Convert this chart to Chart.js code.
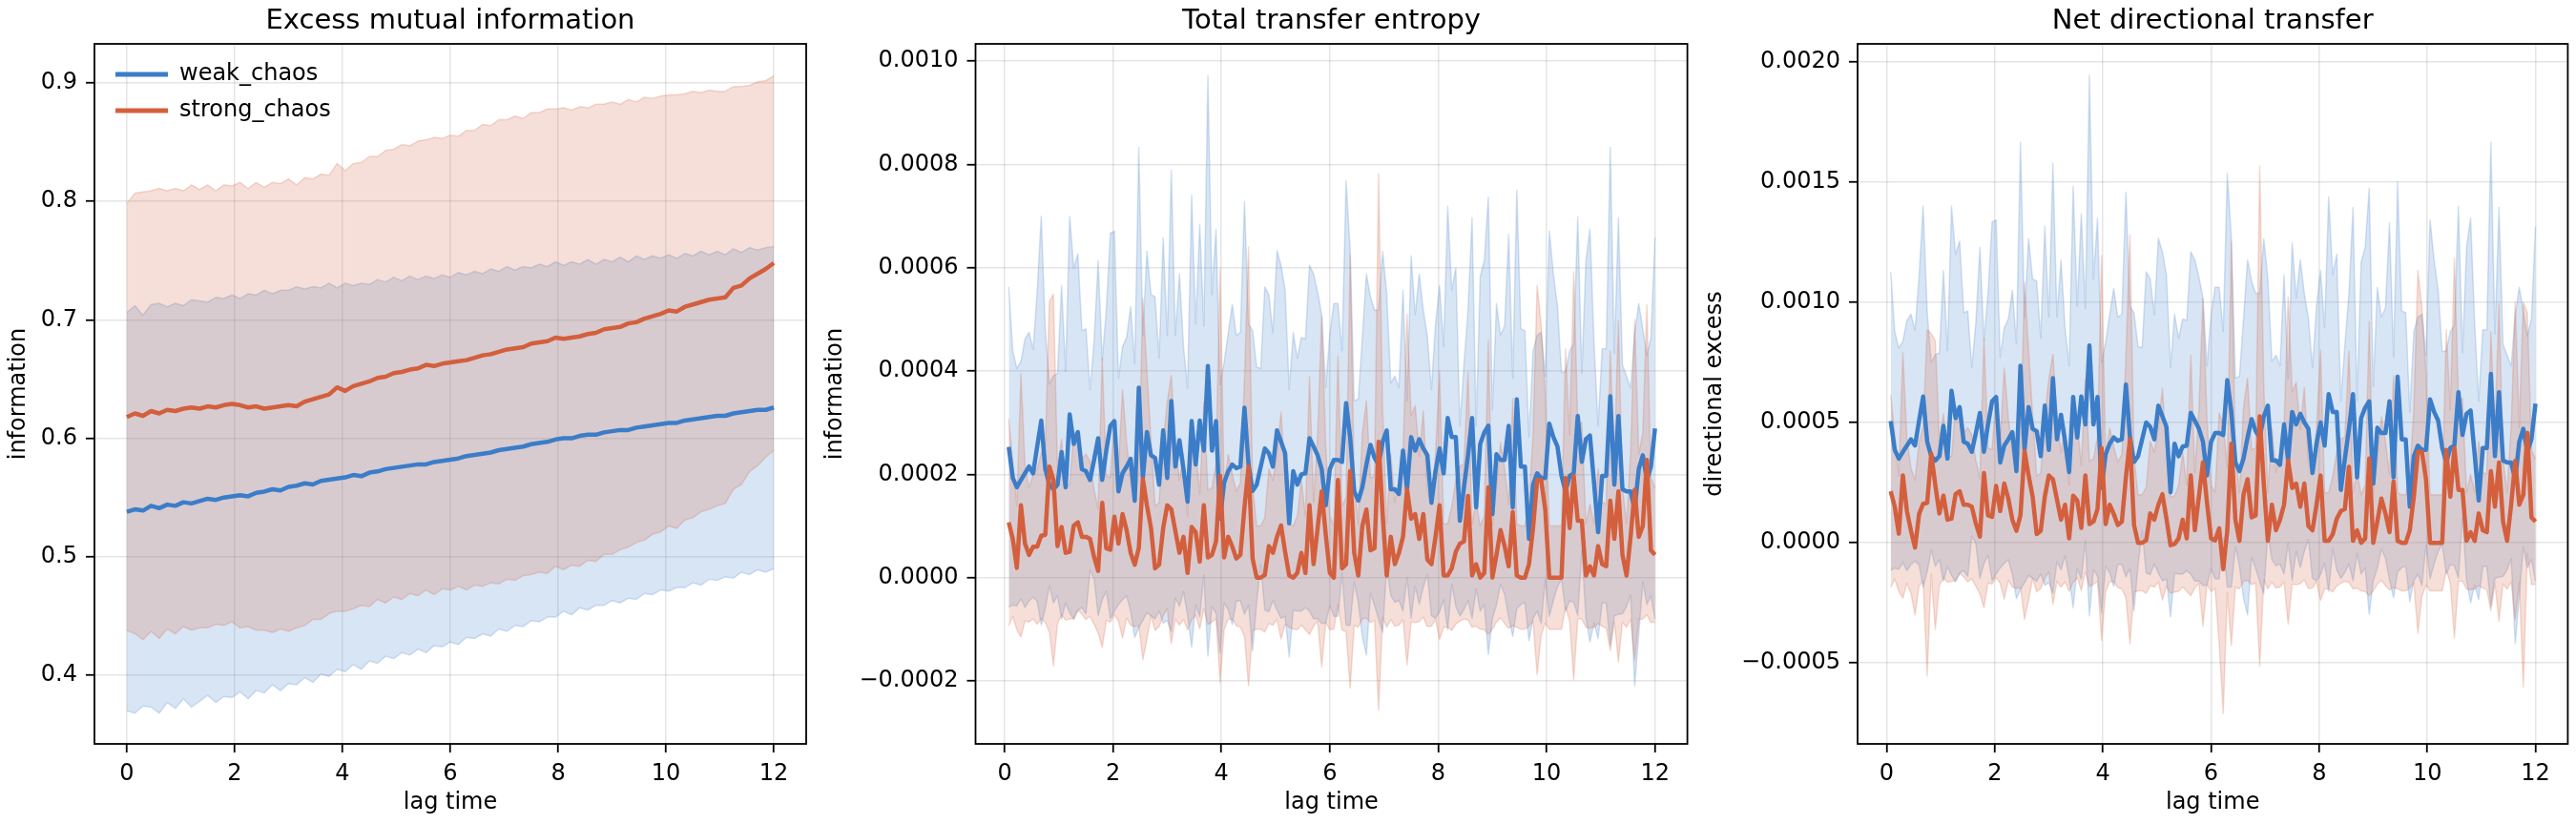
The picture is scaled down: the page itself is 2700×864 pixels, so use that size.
<!DOCTYPE html>
<html><head><meta charset="utf-8">
<script src="https://cdn.jsdelivr.net/npm/chart.js@4.4.1/dist/chart.umd.min.js"></script>
<style>
html,body{margin:0;padding:0;background:#fff;width:2700px;height:864px;overflow:hidden}
.p{position:absolute;top:0;height:864px}
</style></head><body>
<div class="p" style="left:0;width:870px"><canvas id="c1" width="870" height="864"></canvas></div>
<div class="p" style="left:860px;width:920px"><canvas id="c2" width="920" height="864"></canvas></div>
<div class="p" style="left:1780px;width:920px"><canvas id="c3" width="920" height="864"></canvas></div>
<script>
// ---------- categories / ticks ----------
const SERIES = ['weak_chaos', 'strong_chaos'];
const TITLES = ['Excess mutual information', 'Total transfer entropy', 'Net directional transfer'];
const Y_LABELS = ['information', 'information', 'directional excess'];
const X_LABEL = 'lag time';
const X_TICKS = [0, 2, 4, 6, 8, 10, 12];
const Y1_TICKS = [0.4, 0.5, 0.6, 0.7, 0.8, 0.9];
const Y2_TICKS = [-0.0002, 0, 0.0002, 0.0004, 0.0006, 0.0008, 0.0010];
const Y3_TICKS = [-0.0005, 0, 0.0005, 0.0010, 0.0015, 0.0020];

// lag grids
const LAG1 = Array.from({length: 81}, (_, i) => +(i * 0.15).toFixed(2));
const LAG2 = Array.from({length: 160}, (_, i) => +((i + 1) * 0.075).toFixed(3));

// ---------- panel 1: excess mutual information (mean, sd) ----------
const MI_WEAK_MEAN = [0.538,0.540,0.539,0.543,0.541,0.544,0.543,0.546,0.545,0.547,
0.549,0.548,0.550,0.551,0.552,0.551,0.554,0.555,0.557,0.556,
0.559,0.560,0.562,0.561,0.564,0.565,0.566,0.567,0.569,0.568,
0.571,0.572,0.574,0.575,0.576,0.577,0.578,0.578,0.580,0.581,
0.582,0.583,0.585,0.586,0.587,0.588,0.590,0.591,0.592,0.593,
0.595,0.596,0.597,0.599,0.600,0.600,0.602,0.603,0.603,0.605,
0.606,0.607,0.607,0.609,0.610,0.611,0.612,0.613,0.613,0.615,
0.616,0.617,0.618,0.619,0.619,0.621,0.622,0.623,0.624,0.624,0.626];
const MI_WEAK_SD = [0.168,0.172,0.165,0.170,0.173,0.167,0.171,0.166,0.172,0.169,
0.166,0.171,0.168,0.170,0.166,0.171,0.167,0.170,0.165,0.169,
0.166,0.168,0.164,0.167,0.163,0.166,0.161,0.164,0.160,0.163,
0.159,0.162,0.158,0.161,0.157,0.160,0.156,0.159,0.155,0.157,
0.154,0.157,0.153,0.155,0.152,0.155,0.151,0.154,0.150,0.152,
0.149,0.151,0.148,0.150,0.146,0.149,0.145,0.148,0.144,0.146,
0.143,0.146,0.142,0.145,0.141,0.143,0.140,0.142,0.139,0.141,
0.138,0.141,0.137,0.139,0.136,0.139,0.135,0.138,0.135,0.137,0.136];
const MI_STRONG_MEAN = [0.618,0.621,0.619,0.623,0.621,0.624,0.623,0.625,0.626,0.625,
0.627,0.626,0.628,0.629,0.628,0.626,0.627,0.625,0.626,0.627,
0.628,0.627,0.631,0.633,0.635,0.637,0.643,0.640,0.644,0.646,
0.648,0.651,0.652,0.655,0.656,0.658,0.659,0.662,0.661,0.663,
0.664,0.665,0.666,0.668,0.670,0.671,0.673,0.675,0.676,0.677,
0.680,0.681,0.682,0.685,0.684,0.685,0.686,0.688,0.689,0.692,
0.693,0.694,0.697,0.698,0.701,0.703,0.705,0.708,0.707,0.711,
0.713,0.715,0.717,0.718,0.719,0.727,0.729,0.735,0.739,0.743,0.748];
const MI_STRONG_SD = [0.180,0.186,0.189,0.186,0.190,0.185,0.188,0.184,0.188,0.185,
0.187,0.183,0.186,0.184,0.188,0.185,0.189,0.187,0.190,0.188,
0.191,0.187,0.189,0.186,0.188,0.185,0.189,0.186,0.188,0.187,
0.190,0.187,0.191,0.189,0.192,0.189,0.192,0.190,0.193,0.190,
0.192,0.190,0.194,0.192,0.195,0.193,0.196,0.194,0.196,0.193,
0.195,0.194,0.196,0.193,0.195,0.192,0.194,0.191,0.193,0.190,
0.191,0.188,0.189,0.186,0.187,0.184,0.184,0.182,0.183,0.180,
0.180,0.177,0.177,0.175,0.174,0.170,0.168,0.163,0.162,0.159,0.158];

// ---------- panel 2: total transfer entropy (units of 1e-4) ----------
const TE_WEAK_MEAN_E4 = [2.53,1.93,1.75,1.89,2.02,2.15,2.02,2.54,3.04,2.1,
1.8,1.71,1.8,2.43,1.75,3.16,2.59,2.82,2.1,2.06,
1.89,2.28,2.7,1.89,2.46,2.94,3.03,1.67,2.02,2.15,
2.3,1.49,3.68,1.93,2.82,2.37,2.32,1.8,2.85,1.93,
3.42,2.15,2.66,2.1,1.47,3.03,2.19,3.04,2.46,4.1,
2.46,3.03,1.14,1.84,2.06,2.19,2.12,2.15,3.29,2.19,
1.68,1.8,2.15,2.5,2.41,2.15,2.85,2.63,2.41,1.05,
2.06,1.8,2.0,2.02,2.7,2.54,2.37,2.1,1.4,2.1,
2.28,2.28,2.24,3.38,2.72,1.67,1.49,1.75,2.19,2.57,
2.32,2.19,2.63,2.85,1.71,1.71,1.62,2.46,1.71,2.72,
2.46,2.68,2.5,2.37,1.45,2.06,2.5,2.02,3.09,2.72,
2.72,1.1,1.75,2.37,3.09,1.36,2.59,2.81,2.94,1.23,
2.39,2.28,2.28,2.94,1.36,3.45,2.15,2.15,0.75,1.8,
2.02,1.93,1.93,2.98,2.72,2.54,1.97,1.67,1.97,2.02,
3.13,2.24,2.68,2.75,1.84,0.88,1.97,1.97,3.51,1.8,
3.13,1.71,1.67,1.67,1.32,2.1,2.37,1.89,2.15,2.89];
const TE_WEAK_SD_E4 = [3.1,2.46,2.3,2.3,2.6,2.6,2.4,3.0,3.96,2.7,
1.95,2.2,2.15,3.23,2.24,3.84,3.4,3.45,2.68,2.76,
1.75,2.3,3.44,2.32,2.72,3.73,3.68,2.19,2.45,2.5,
2.95,2.65,4.65,2.76,3.5,3.11,3.12,2.45,3.73,2.76,
4.47,2.54,3.22,2.37,2.2,4.38,2.72,3.8,2.41,5.62,
3.02,3.72,2.6,2.33,2.68,3.1,2.57,2.6,4.0,2.72,
3.1,2.28,1.9,3.13,3.07,2.59,3.48,3.42,3.16,2.59,
2.69,2.45,2.65,2.6,3.35,3.34,3.16,2.99,2.28,2.64,
3.03,3.03,2.15,4.3,3.64,1.75,1.97,2.9,3.69,2.87,
2.86,3.0,3.69,2.65,2.06,2.19,2.06,3.11,1.71,3.51,
2.63,3.2,2.68,2.3,2.19,2.85,3.16,2.45,4.1,2.85,
3.28,1.84,2.37,2.81,3.88,1.58,3.24,3.33,4.43,2.02,
2.92,2.41,2.6,3.71,2.5,4.05,2.67,2.63,1.97,2.59,
2.67,2.82,1.97,3.73,3.16,2.72,2.0,2.32,2.42,2.5,
3.86,1.71,3.46,4.0,2.72,2.06,2.46,2.46,4.82,2.54,
3.84,2.41,2.23,2.0,3.42,3.21,2.45,2.41,2.5,3.69];
const TE_STRONG_MEAN_E4 = [1.07,0.75,0.19,1.4,0.66,0.44,0.6,0.6,0.81,0.83,
2.15,1.89,0.61,0.98,0.48,0.5,1.01,1.07,0.79,0.79,
0.75,0.4,0.13,1.45,0.57,0.54,1.18,0.66,1.23,0.92,
0.48,0.25,0.57,1.91,1.4,0.96,0.18,0.25,0.96,1.4,
1.32,0.9,0.48,0.79,0.09,0.98,0.88,0.31,1.4,0.39,
0.44,0.7,1.97,0.39,0.79,0.6,0.37,0.44,1.36,2.15,
0.37,0,0,0.05,0.61,0.48,0.79,1.01,0.5,0.04,
0,0.09,0.48,0.09,1.4,0.26,0.96,1.67,0.83,0.09,
0,1.89,0.18,0.26,2.06,0.48,0.04,1.0,1.32,0.53,
0.57,2.63,1.23,0.04,0.79,0.26,0.48,0.79,1.71,1.14,
1.23,0.75,1.23,0.35,0.26,0.79,1.4,0.04,0.04,0.18,
0.5,0.66,0.7,1.58,0.04,0.26,0,0.09,1.75,0,
0.44,0.92,0.61,0.22,1.27,0.04,0,0,0.26,0.96,
1.89,1.89,1.32,0,0,0,0,1.93,0.96,1.97,
1.1,1.1,0.04,0.22,0.04,0.61,0.26,0.22,1.49,0.75,
1.67,0.44,0.04,0.79,1.7,0.79,1.0,2.28,0.53,0.44];
const TE_STRONG_SD_E4 = [2.0,1.5,1.2,2.55,1.5,1.3,1.4,1.5,1.6,1.7,
3.2,3.6,1.5,1.7,1.3,1.3,1.8,1.7,1.5,1.6,
1.5,1.3,1.2,2.8,1.4,1.4,1.9,1.5,2.4,1.7,
1.4,1.2,1.5,3.5,2.6,1.7,1.2,1.2,1.7,2.0,
2.6,1.7,1.4,1.6,1.1,1.8,1.6,1.3,2.0,1.3,
1.3,1.5,4.0,1.4,1.6,1.4,1.3,1.4,2.5,4.25,
1.4,1.0,1.0,1.1,1.5,1.4,1.6,2.2,1.4,1.0,
1.0,1.1,1.4,1.1,2.5,1.2,1.8,3.4,1.7,1.1,
1.0,2.4,1.2,1.3,4.2,1.4,1.0,1.8,2.1,1.4,
1.4,5.2,2.0,1.0,1.6,1.2,1.4,1.6,3.4,2.0,
2.1,1.6,2.0,1.3,1.2,1.6,2.6,1.0,1.0,1.2,
1.4,1.5,1.5,2.4,1.0,1.2,1.0,1.1,2.85,1.0,
1.3,1.7,1.5,1.2,2.2,1.0,1.0,1.0,1.2,1.8,
3.77,3.0,2.2,1.0,1.0,1.0,1.0,2.5,1.8,3.95,
1.9,1.9,1.0,1.2,1.0,1.5,1.2,1.2,2.9,1.6,
3.3,1.3,1.0,1.6,3.3,1.6,1.8,3.0,1.4,1.3];

// ---------- panel 3: net directional transfer (units of 1e-4) ----------
const ND_WEAK_MEAN_E4 = [5.06,3.86,3.5,3.78,4.04,4.3,4.04,5.08,6.08,4.2,
3.6,3.42,3.6,4.86,3.5,6.32,5.18,5.64,4.2,4.12,
3.78,4.56,5.4,3.78,4.92,5.88,6.06,3.34,4.04,4.3,
4.6,2.98,7.36,3.86,5.64,4.74,4.64,3.6,5.7,3.86,
6.84,4.3,5.32,4.2,2.94,6.06,4.38,6.08,4.92,8.2,
4.92,6.06,2.28,3.68,4.12,4.38,4.24,4.3,6.58,4.38,
3.36,3.6,4.3,5.0,4.82,4.3,5.7,5.26,4.82,2.1,
4.12,3.6,4.0,4.04,5.4,5.08,4.74,4.2,2.8,4.2,
4.56,4.56,4.48,6.76,5.44,3.34,2.98,3.5,4.38,5.14,
4.64,4.38,5.26,5.7,3.42,3.42,3.24,4.92,3.42,5.44,
4.92,5.36,5.0,4.74,2.9,4.12,5.0,4.04,6.18,5.44,
5.44,2.2,3.5,4.74,6.18,2.72,5.18,5.62,5.88,2.46,
4.78,4.56,4.56,5.88,2.72,6.9,4.3,4.3,1.5,3.6,
4.04,3.86,3.86,5.96,5.44,5.08,3.94,3.34,3.94,4.04,
6.26,4.48,5.36,5.5,3.68,1.76,3.94,3.94,7.02,3.6,
6.26,3.42,3.34,3.34,2.64,4.2,4.74,3.78,4.3,5.78];
const ND_WEAK_SD_E4 = [6.2,4.92,4.6,4.6,5.2,5.2,4.8,6.0,7.92,5.4,
3.9,4.4,4.3,6.46,4.48,7.68,6.8,6.9,5.36,5.52,
3.5,4.6,6.88,4.64,5.44,7.46,7.36,4.38,4.9,5.0,
5.9,5.3,9.3,5.52,7.0,6.22,6.24,4.9,7.46,5.52,
8.94,5.08,6.44,4.74,4.4,8.76,5.44,7.6,4.82,11.24,
6.04,7.44,5.2,4.66,5.36,6.2,5.14,5.2,8.0,5.44,
6.2,4.56,3.8,6.26,6.14,5.18,6.96,6.84,6.32,5.18,
5.38,4.9,5.3,5.2,6.7,6.68,6.32,5.98,4.56,5.28,
6.06,6.06,4.3,8.6,7.28,3.5,3.94,5.8,7.38,5.74,
5.72,6.0,7.38,5.3,4.12,4.38,4.12,6.22,3.42,7.02,
5.26,6.4,5.36,4.6,4.38,5.7,6.32,4.9,8.2,5.7,
6.56,3.68,4.74,5.62,7.76,3.16,6.48,6.66,8.86,4.04,
5.84,4.82,5.2,7.42,5.0,8.1,5.34,5.26,3.94,5.18,
5.34,5.64,3.94,7.46,6.32,5.44,4.0,4.64,4.84,5.0,
7.72,3.42,6.92,8.0,5.44,4.12,4.92,4.92,9.64,5.08,
7.68,4.82,4.46,4.0,6.84,6.42,4.9,4.82,5.0,7.38];
const ND_STRONG_MEAN_E4 = [2.14,1.5,0.38,2.8,1.32,0.5,-0.2,1.2,1.62,1.66,
3.7,2.4,1.22,1.96,0.96,1.0,2.02,2.14,1.58,1.58,
1.5,0.8,0.26,2.9,1.14,1.08,2.36,1.32,2.46,1.84,
0.96,0.5,1.14,3.82,2.8,1.92,0.36,0.5,1.92,2.8,
2.64,1.8,0.96,1.58,0.18,1.96,1.76,0.62,2.8,0.78,
0.88,1.4,3.94,0.78,1.58,1.2,0.74,0.88,2.72,4.3,
0.74,0,0,0.1,1.22,0.96,1.58,2.02,1.0,-0.1,
-0.05,0.18,0.96,0.18,2.8,0.52,1.92,3.34,1.66,0.18,
0.1,0.6,-1.1,0.52,4.12,0.96,0.08,2.0,2.64,1.06,
1.14,5.26,2.46,0.08,1.58,0.52,0.96,1.58,3.42,2.28,
2.46,1.5,2.46,0.7,0.52,1.58,2.8,0.08,0.08,0.36,
1.0,1.32,1.4,3.16,0.08,0.52,0,0.18,3.5,0,
0.88,1.84,1.22,0.44,2.54,0.08,0,0,0.52,1.92,
3.78,3.78,2.64,0,0,0,0,3.86,1.92,3.94,
2.2,2.2,0.08,0.44,0.08,1.22,0.52,0.44,2.98,1.5,
3.34,0.88,0.08,1.58,3.4,1.58,2.0,4.56,1.06,0.88];
const ND_STRONG_SD_E4 = [4.0,3.0,2.4,5.1,3.0,2.6,2.8,3.0,3.2,7.2,
5.0,6.0,3.0,3.4,2.6,2.6,3.6,3.4,3.0,3.2,
3.0,2.6,2.4,5.6,2.8,2.8,3.8,3.0,4.8,3.4,
2.8,2.4,3.0,7.0,5.2,3.4,2.4,2.4,3.4,4.0,
5.2,3.4,2.8,3.2,2.2,3.6,3.2,2.6,4.0,2.6,
2.6,3.0,8.0,2.8,3.2,2.8,2.6,2.8,5.0,8.5,
2.8,2.0,2.0,2.2,3.0,2.8,3.2,4.4,2.8,2.0,
2.0,2.2,2.8,2.2,5.0,2.4,3.6,6.8,3.4,2.2,
2.0,4.8,6.0,2.6,8.4,2.8,2.0,3.6,4.2,2.8,
2.8,10.4,4.0,2.0,3.2,2.4,2.8,3.2,6.8,4.0,
4.2,3.2,4.0,2.6,2.4,3.2,5.2,2.0,2.0,2.4,
2.8,3.0,3.0,4.8,2.0,2.4,2.0,2.2,5.7,2.0,
2.6,3.4,3.0,2.4,4.4,2.0,2.0,2.0,2.4,3.6,
7.54,6.0,4.4,2.0,2.0,2.0,2.0,5.0,3.6,7.9,
3.8,3.8,2.0,2.4,2.0,3.0,2.4,2.4,5.8,3.2,
6.6,2.6,2.0,3.2,6.6,3.2,8.0,5.0,2.8,2.6];

// ---------- styling ----------
const RGB = {weak_chaos: '59,125,200', strong_chaos: '211,95,61'};
const FONT = "'DejaVu Sans', 'Liberation Sans', sans-serif";
Chart.defaults.font.family = FONT;
Chart.defaults.color = '#000';

const framePlugin = {
  id: 'frame',
  afterLayout(chart) {
    // a legend placed in the chart area is laid out from the canvas top; move it inside the axes
    const lg = chart.legend;
    if (lg && chart.options.plugins.legend.display) {
      lg.top = chart.chartArea.top + 6;
      lg.left = chart.chartArea.left + 8;
    }
  },
  afterDraw(chart) {
    const {ctx, chartArea: a} = chart;
    ctx.save();
    ctx.strokeStyle = '#000';
    ctx.lineWidth = 1.8;
    ctx.strokeRect(a.left, a.top, a.right - a.left, a.bottom - a.top);
    ctx.restore();
  }
};

// order: lower number is drawn on top -> lines above both bands
function seriesSets(lags, mean, sd, k, name, bandOrder, lineOrder) {
  const rgb = RGB[name];
  const pts = f => lags.map((x, i) => ({x, y: f(i) * k}));
  const common = {pointRadius: 0, pointHoverRadius: 0, tension: 0, borderJoinStyle: 'round', xAxisID: 'x', yAxisID: 'y'};
  return [
    Object.assign({label: name + ' +sd', data: pts(i => mean[i] + sd[i]), fill: '+1',
      backgroundColor: `rgba(${rgb},0.2)`, borderColor: `rgba(${rgb},0.22)`, borderWidth: 1.5, order: bandOrder}, common),
    Object.assign({label: name + ' -sd', data: pts(i => mean[i] - sd[i]), fill: false,
      backgroundColor: `rgba(${rgb},0.2)`, borderColor: `rgba(${rgb},0.22)`, borderWidth: 1.5, order: bandOrder}, common),
    Object.assign({label: name, data: pts(i => mean[i]), fill: false,
      backgroundColor: `rgb(${rgb})`, borderColor: `rgb(${rgb})`, borderWidth: 4.5, order: lineOrder}, common)
  ];
}

function fmt4(v) {
  const s = (Math.abs(v) < 1e-12 ? 0 : v).toFixed(4);
  return s.replace('-', '\u2212');
}

function makeChart(id, o) {
  const datasets = [
    ...seriesSets(o.lags, o.weak[0], o.weak[1], o.k, SERIES[0], 4, 2),
    ...seriesSets(o.lags, o.strong[0], o.strong[1], o.k, SERIES[1], 3, 1)
  ];
  const grid = {color: 'rgba(0,0,0,0.1)', lineWidth: 1.5, drawTicks: true, tickLength: 9, tickColor: '#000', tickWidth: 1.8};
  return new Chart(document.getElementById(id), {
    type: 'line',
    data: {datasets},
    plugins: [framePlugin],
    options: {
      responsive: false,
      animation: false,
      events: [],
      layout: {padding: {left: 0, right: o.rightPad, top: 0, bottom: 0}},
      plugins: {
        tooltip: {enabled: false},
        title: {display: false},
        legend: {
          display: !!o.legend,
          position: 'chartArea',
          align: 'start',
          labels: {
            font: {size: 24, family: FONT}, color: '#000',
            boxWidth: 55, boxHeight: 5, padding: 14,
            filter: item => SERIES.includes(item.text),
            sort: (a, b) => a.datasetIndex - b.datasetIndex,
            generateLabels: chart => Chart.defaults.plugins.legend.labels.generateLabels(chart)
              .map(l => Object.assign(l, {lineWidth: 0}))
          }
        }
      },
      scales: {
        x: {
          type: 'linear', position: 'bottom', min: o.xmin, max: o.xmax,
          afterBuildTicks: s => { s.ticks = X_TICKS.map(v => ({value: v})); },
          afterFit: s => { s.height = 84; },
          grid: grid,
          border: {display: false},
          ticks: {font: {size: 24}, color: '#000', padding: 8, autoSkip: false, maxRotation: 0,
            callback: v => String(v)},
          title: {display: true, text: X_LABEL, color: '#000', font: {size: 24}, padding: {top: 0, bottom: 8}}
        },
        // top axis carries the panel title, centred over the plot area
        xt: {
          type: 'linear', position: 'top', min: o.xmin, max: o.xmax, display: true,
          afterFit: s => { s.height = 46; },
          grid: {display: false, drawTicks: false},
          border: {display: false},
          ticks: {display: false},
          title: {display: true, text: o.title, color: '#000', font: {size: 29}, padding: {top: 5, bottom: 0}}
        },
        y: {
          type: 'linear', min: o.ymin, max: o.ymax,
          afterBuildTicks: s => { s.ticks = o.yTicks.map(v => ({value: v})); },
          afterFit: s => { s.width = o.yWidth; },
          grid: grid,
          border: {display: false},
          ticks: {font: {size: 24}, color: '#000', padding: 9, autoSkip: false, callback: o.fmt},
          title: {display: true, text: o.yLabel, color: '#000', font: {size: 24}, padding: {top: o.yTitlePad, bottom: 0}}
        }
      }
    }
  });
}

makeChart('c1', {
  title: TITLES[0], yLabel: Y_LABELS[0], lags: LAG1, k: 1,
  weak: [MI_WEAK_MEAN, MI_WEAK_SD], strong: [MI_STRONG_MEAN, MI_STRONG_SD],
  xmin: -0.6, xmax: 12.6, ymin: 0.342, ymax: 0.933, yTicks: Y1_TICKS,
  fmt: v => v.toFixed(1), yWidth: 99, rightPad: 25, yTitlePad: 5.6, legend: true
});
makeChart('c2', {
  title: TITLES[1], yLabel: Y_LABELS[1], lags: LAG2, k: 1e-4,
  weak: [TE_WEAK_MEAN_E4, TE_WEAK_SD_E4], strong: [TE_STRONG_MEAN_E4, TE_STRONG_SD_E4],
  xmin: -0.5375, xmax: 12.5975, ymin: -0.000322, ymax: 0.0010336, yTicks: Y2_TICKS,
  fmt: fmt4, yWidth: 162.5, rightPad: 11.4, yTitlePad: 1.1, legend: false
});
makeChart('c3', {
  title: TITLES[2], yLabel: Y_LABELS[2], lags: LAG2, k: 1e-4,
  weak: [ND_WEAK_MEAN_E4, ND_WEAK_SD_E4], strong: [ND_STRONG_MEAN_E4, ND_STRONG_SD_E4],
  xmin: -0.5375, xmax: 12.5975, ymin: -0.000836, ymax: 0.002074, yTicks: Y3_TICKS,
  fmt: fmt4, yWidth: 167, rightPad: 8.6, yTitlePad: 3.2, legend: false
});
</script>
</body></html>
